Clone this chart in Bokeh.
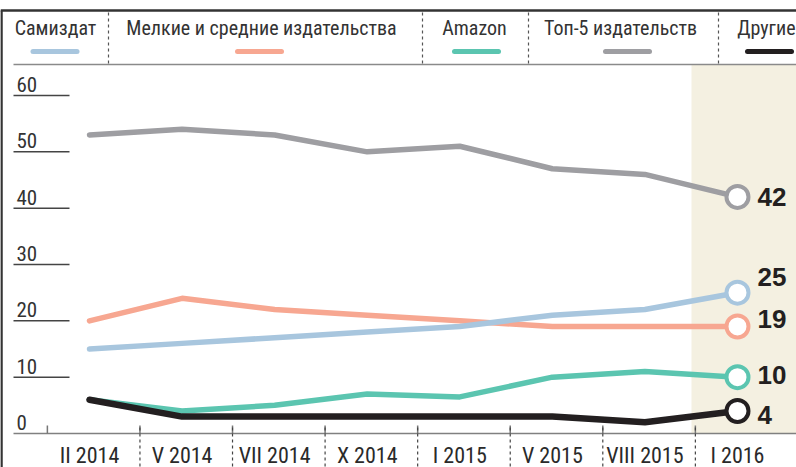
from bokeh.plotting import figure
from bokeh.models import Range1d
from bokeh.core.properties import value
from bokeh.embed import file_html
from bokeh.resources import INLINE

# ---------------- data ----------------
periods = ["II 2014", "V 2014", "VII 2014", "X 2014", "I 2015", "V 2015", "VIII 2015", "I 2016"]
samizdat = [15, 16, 17, 18, 19, 21, 22, 25]
small_medium = [20, 24, 22, 21, 20, 19, 19, 19]
amazon = [6, 4, 5, 7, 6.5, 10, 11, 10]
top5 = [53, 54, 53, 50, 51, 47, 46, 42]
others = [6, 3, 3, 3, 3, 3, 2, 4]
series_names = ["Самиздат", "Мелкие и средние издательства", "Amazon", "Топ-5 издательств", "Другие"]
y_ticks = [0, 10, 20, 30, 40, 50, 60]

# ---------------- style / layout ----------------
W, H = 796, 467
KY = 5.633      # px per unit
Y0 = 433        # pixel row of value 0
XU = 92.57      # px per period
X0 = 89         # pixel column of first period

def px(p):
    return (p - X0) / XU

def py(p):
    return (Y0 - p) / KY

colors = {"samizdat": "#a8c6de", "small": "#f7a791", "amazon": "#5bc5b0",
          "top5": "#9e9ea2", "others": "#231f20"}

NARROW = value("Roboto Condensed")
TXT = "#333333"

p = figure(width=W, height=H, output_backend="svg", toolbar_location=None,
           x_axis_type=None, y_axis_type=None, min_border=0,
           x_range=Range1d(px(0), px(W)), y_range=Range1d(py(H), py(0)))
p.outline_line_color = None
p.background_fill_color = "white"
p.border_fill_color = "white"
p.xgrid.visible = False
p.ygrid.visible = False

xs = list(range(len(periods)))

# highlighted last period
p.quad(left=[px(691)], right=[px(W)], bottom=[0], top=[py(64)],
       fill_color="#f4f0e1", line_color=None)

# frame lines
p.segment(x0=[px(0)], y0=[py(10)], x1=[px(W)], y1=[py(10)], line_color="#333333", line_width=2.5)
p.segment(x0=[px(1)], y0=[py(10)], x1=[px(1)], y1=[py(H)], line_color="#333333", line_width=2.5)
p.segment(x0=[px(13)], y0=[py(64)], x1=[px(W)], y1=[py(64)], line_color="#8a8a8a", line_width=1.5)

# legend
leg_text_x = [55, 261, 474, 620, 795]
leg_text_align = ["center", "center", "center", "center", "right"]
leg_swatch_x = [54.5, 259, 476, 627, 769]
leg_colors = [colors["samizdat"], colors["small"], colors["amazon"], colors["top5"], colors["others"]]
p.text(x=[px(v) for v in leg_text_x], y=[py(27)] * 5, text=series_names,
       text_font=NARROW, text_font_size="20px", text_color=TXT,
       text_align=leg_text_align, text_baseline="middle")
p.segment(x0=[px(v - 22) for v in leg_swatch_x], y0=[py(51)] * 5,
          x1=[px(v + 22) for v in leg_swatch_x], y1=[py(51)] * 5,
          line_color=leg_colors, line_width=5, line_cap="round")
sep_x = [108, 422, 528, 718]
p.segment(x0=[px(v) for v in sep_x], y0=[py(12)] * 4, x1=[px(v) for v in sep_x], y1=[py(63)] * 4,
          line_color="#555555", line_width=1.2, line_dash="3 3")

# y gridlines and labels
grid_vals = [v for v in y_ticks if v > 0]
p.segment(x0=[px(13)] * len(grid_vals), y0=grid_vals, x1=[px(69)] * len(grid_vals), y1=grid_vals,
          line_color="#444444", line_width=1.5)
p.text(x=[px(16)] * len(y_ticks), y=y_ticks, text=[str(v) for v in y_ticks], y_offset=-11,
       text_font=NARROW, text_font_size="21px", text_color=TXT,
       text_align="left", text_baseline="middle")

# x baseline, ticks, separators, labels
p.segment(x0=[px(13)], y0=[0], x1=[px(W)], y1=[0], line_color="#808080", line_width=1.5)
bounds = [i - 0.455 for i in xs]
p.segment(x0=bounds, y0=[0] * len(bounds), x1=bounds, y1=[py(425)] * len(bounds),
          line_color="#777777", line_width=1.5)
p.segment(x0=bounds[1:], y0=[py(427)] * (len(bounds) - 1), x1=bounds[1:], y1=[py(H)] * (len(bounds) - 1),
          line_color="#444444", line_width=1.2, line_dash="3 3")
p.text(x=xs, y=[py(455)] * len(xs), text=periods,
       text_font=NARROW, text_font_size="22px", text_color="#2a2a2a",
       text_align="center", text_baseline="middle")

# series lines
order = [("top5", top5, 5.5), ("small", small_medium, 5.5), ("samizdat", samizdat, 5.5),
         ("amazon", amazon, 5.5), ("others", others, 6.5)]
for key, vals, lw in order:
    p.line(x=xs, y=vals, line_color=colors[key], line_width=lw,
           line_join="round", line_cap="round")

# end markers and labels
end_dy = {"top5": 0, "samizdat": -16, "small": -7, "amazon": -2, "others": 4}
for key, vals, lw in order:
    p.scatter(x=[xs[-1]], y=[vals[-1]], size=22, marker="circle",
              fill_color="white", line_color=colors[key], line_width=4)
    p.text(x=[xs[-1]], y=[vals[-1]], text=[f"{vals[-1]:g}"], x_offset=20, y_offset=end_dy[key],
           text_font=value("Liberation Sans"), text_font_style="bold", text_font_size="26px",
           text_color="#231f20", text_align="left", text_baseline="middle")

html = file_html(p, INLINE)
html = html.replace("<head>", "<head>\n<style>html,body{margin:0;padding:0;overflow:hidden;}</style>", 1)
open("out.html", "w").write(html)
